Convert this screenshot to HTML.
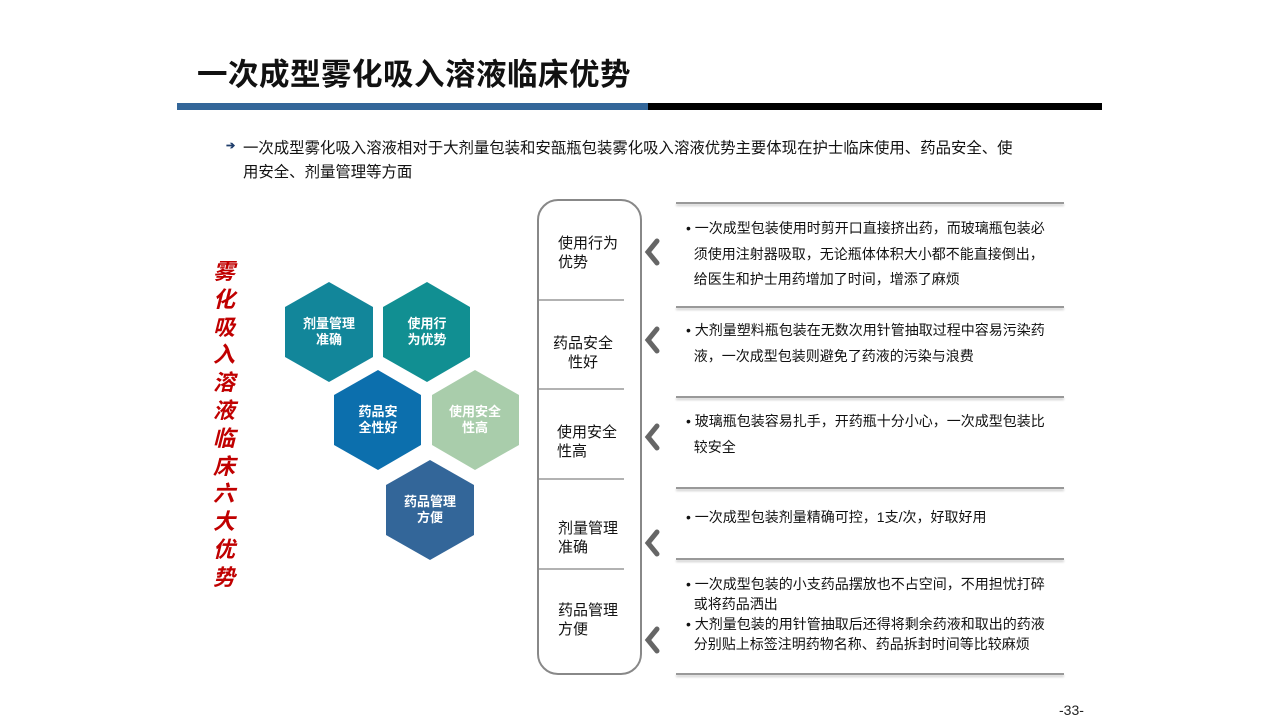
<!DOCTYPE html>
<html><head><meta charset="utf-8"><style>
body{margin:0;width:1280px;height:720px;background:#fff;position:relative;overflow:hidden;font-family:"Liberation Sans","Noto Sans CJK SC",sans-serif;}
.a{position:absolute;}
.t{font-size:14px;color:#111;line-height:25.5px;}
.lbl{font-size:15px;color:#111;line-height:19px;}
.hl{position:absolute;left:676px;width:388px;height:2px;background:#999;box-shadow:0 2px 2px #ccc;}
</style></head><body>
<div class="a" style="left:197px;top:50px;font-size:30.5px;font-weight:bold;color:#111;letter-spacing:0.5px">一次成型雾化吸入溶液临床优势</div>
<div class="a" style="left:177px;top:103px;width:471px;height:7px;background:#336699"></div>
<div class="a" style="left:648px;top:103px;width:454px;height:7px;background:#000"></div>
<div class="a" style="left:226px;top:139px;font-size:11px;color:#1f3d6b;font-weight:bold">➔</div>
<div class="a" style="left:243px;top:137px;width:820px;font-size:15.4px;line-height:24px;color:#111">一次成型雾化吸入溶液相对于大剂量包装和安瓿瓶包装雾化吸入溶液优势主要体现在护士临床使用、药品安全、使<br>用安全、剂量管理等方面</div>

<div class="a" style="left:207px;top:258px;width:34px;font-size:22px;line-height:27.8px;font-weight:bold;font-style:italic;color:#c00000;text-align:center">雾<br>化<br>吸<br>入<br>溶<br>液<br>临<br>床<br>六<br>大<br>优<br>势</div>

<svg class="a" style="left:0;top:0" width="1280" height="720">
<g font-family="Liberation Sans,Noto Sans CJK SC,sans-serif" font-weight="bold" font-size="13" fill="#fff" text-anchor="middle">
<polygon points="329,282 373,307 373,357 329,382 285,357 285,307" fill="#12869a"/>
<text x="329" y="328">剂量管理</text><text x="329" y="344">准确</text>
<polygon points="427,282 470,307 470,357 427,382 383,357 383,307" fill="#118f92"/>
<text x="427" y="328">使用行</text><text x="427" y="344">为优势</text>
<polygon points="378,370 421,395 421,445 378,470 334,445 334,395" fill="#0c6fad"/>
<text x="378" y="416">药品安</text><text x="378" y="432">全性好</text>
<polygon points="475,370 519,395 519,445 475,470 432,445 432,395" fill="#a9cdab"/>
<text x="475" y="416">使用安全</text><text x="475" y="432">性高</text>
<polygon points="430,460 474,485 474,535 430,560 386,535 386,485" fill="#336699"/>
<text x="430" y="506">药品管理</text><text x="430" y="522">方便</text>
</g>
<rect x="538" y="200" width="103" height="474" rx="20" fill="none" stroke="#888" stroke-width="2"/>
<g stroke="#999" stroke-width="1.5">
<line x1="539" y1="300" x2="624" y2="300"/><line x1="539" y1="389" x2="624" y2="389"/>
<line x1="539" y1="479" x2="624" y2="479"/><line x1="539" y1="569" x2="624" y2="569"/>
</g>
<g stroke="#666" stroke-width="5" fill="none" stroke-linecap="round">
<polyline points="657,241 648,252 657,263"/>
<polyline points="657,329 648,340 657,351"/>
<polyline points="657,426 648,437 657,448"/>
<polyline points="657,532 648,543 657,554"/>
<polyline points="657,629 648,640 657,651"/>
</g>
</svg>

<div class="a lbl" style="left:558px;top:234px">使用行为<br>优势</div>
<div class="a lbl" style="left:552px;top:334px;text-align:center;width:62px">药品安全<br>性好</div>
<div class="a lbl" style="left:557px;top:423px">使用安全<br>性高</div>
<div class="a lbl" style="left:558px;top:519px">剂量管理<br>准确</div>
<div class="a lbl" style="left:558px;top:601px">药品管理<br>方便</div>

<div class="hl" style="top:202px"></div>
<div class="hl" style="top:306px"></div>
<div class="hl" style="top:396px"></div>
<div class="hl" style="top:487px"></div>
<div class="hl" style="top:558px"></div>
<div class="hl" style="top:673px"></div>

<div class="a t" style="left:686px;top:216px;width:400px">• 一次成型包装使用时剪开口直接挤出药，而玻璃瓶包装必<br>&nbsp;&nbsp;须使用注射器吸取，无论瓶体体积大小都不能直接倒出，<br>&nbsp;&nbsp;给医生和护士用药增加了时间，增添了麻烦</div>
<div class="a t" style="left:686px;top:318px;width:400px">• 大剂量塑料瓶包装在无数次用针管抽取过程中容易污染药<br>&nbsp;&nbsp;液，一次成型包装则避免了药液的污染与浪费</div>
<div class="a t" style="left:686px;top:409px;width:400px">• 玻璃瓶包装容易扎手，开药瓶十分小心，一次成型包装比<br>&nbsp;&nbsp;较安全</div>
<div class="a t" style="left:686px;top:505px;width:400px">• 一次成型包装剂量精确可控，1支/次，好取好用</div>
<div class="a t" style="left:686px;top:574px;width:400px;line-height:20px">• 一次成型包装的小支药品摆放也不占空间，不用担忧打碎<br>&nbsp;&nbsp;或将药品洒出<br>• 大剂量包装的用针管抽取后还得将剩余药液和取出的药液<br>&nbsp;&nbsp;分别贴上标签注明药物名称、药品拆封时间等比较麻烦</div>

<div class="a" style="left:1059px;top:702px;font-size:14px;color:#222">-33-</div>
</body></html>
